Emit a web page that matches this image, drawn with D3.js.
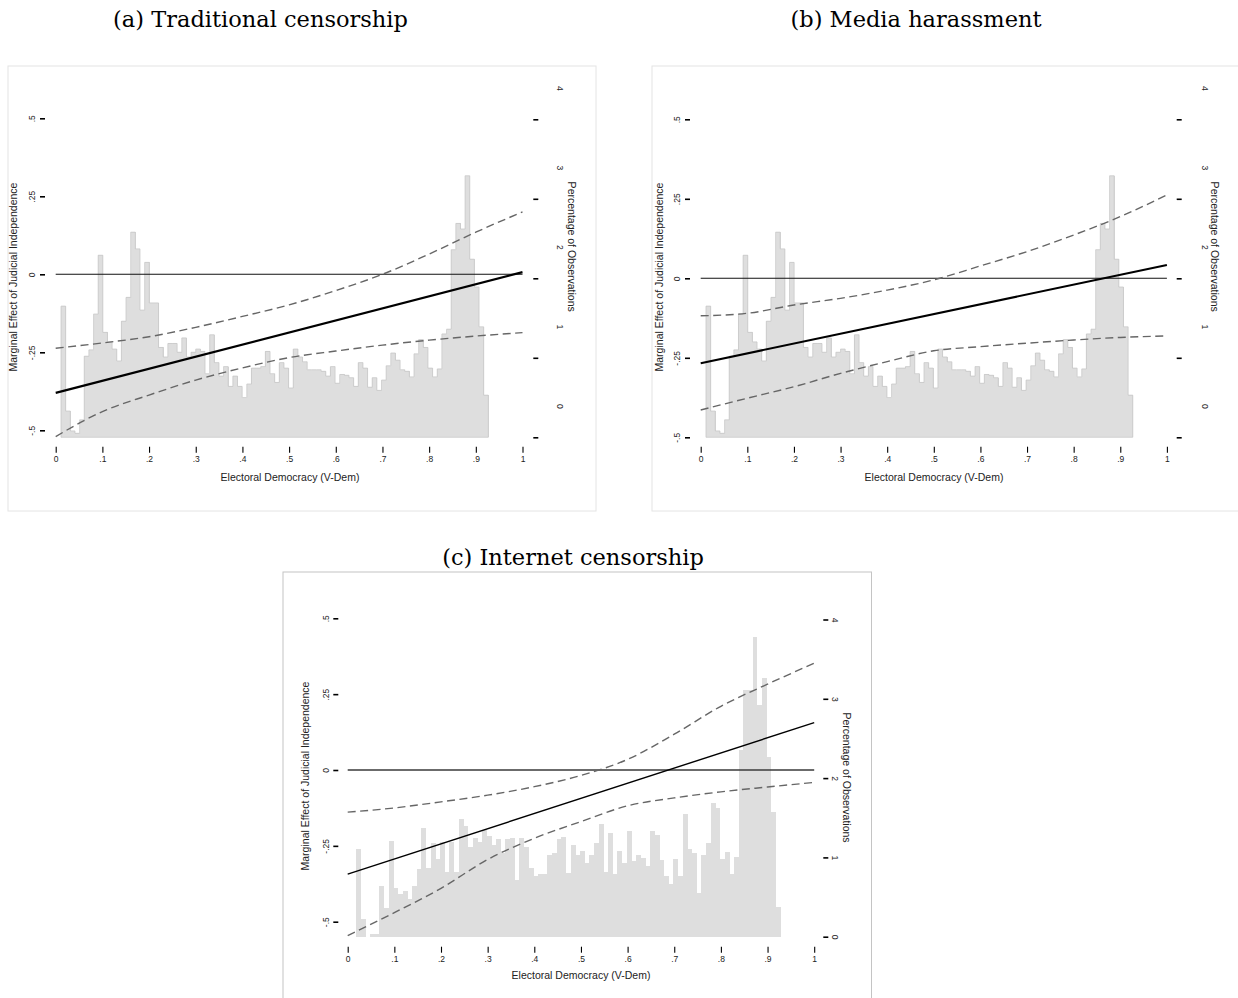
<!DOCTYPE html>
<html><head><meta charset="utf-8">
<script src="https://cdn.jsdelivr.net/npm/d3@7"></script>
<style>body{margin:0;background:#fff} svg{display:block}</style>
</head><body>
<svg id="c" width="1238" height="998"></svg>
<script>
// ---------------- DATA ----------------
const panelTitles = ["(a) Traditional censorship", "(b) Media harassment", "(c) Internet censorship"];
const xTitle = "Electoral Democracy (V-Dem)";
const yLeftTitle = "Marginal Effect of Judicial Independence";
const yRightTitle = "Percentage of Observations";

const xTicks = [0, .1, .2, .3, .4, .5, .6, .7, .8, .9, 1];
const xTickLabels = ["0", ".1", ".2", ".3", ".4", ".5", ".6", ".7", ".8", ".9", "1"];
const yTicks = [-.5, -.25, 0, .25, .5];
const yTickLabels = ["-.5", "-.25", "0", ".25", ".5"];
const pctTicks = [0, 1, 2, 3, 4];
const pctTickLabels = ["0", "1", "2", "3", "4"];

// evaluation points of the confidence bands
const ciX = [0, .1, .2, .3, .4, .5, .6, .7, .8, .9, 1];
const effectX = [0, 1];

// (a) Traditional censorship
const effectA = [-0.380, 0.007];
const upperA = [-0.237, -0.220, -0.200, -0.170, -0.135, -0.098, -0.052, 0.000, 0.065, 0.135, 0.200];
const lowerA = [-0.520, -0.440, -0.387, -0.339, -0.300, -0.267, -0.246, -0.227, -0.211, -0.198, -0.187];

// (b) Media harassment
const effectB = [-0.267, 0.042];
const upperB = [-0.118, -0.110, -0.084, -0.063, -0.037, -0.005, 0.039, 0.084, 0.136, 0.194, 0.262];
const lowerB = [-0.414, -0.377, -0.341, -0.299, -0.262, -0.228, -0.215, -0.204, -0.194, -0.186, -0.181];

// (c) Internet censorship
const effectC = [-0.343, 0.156];
const upperC = [-0.139, -0.125, -0.105, -0.083, -0.055, -0.018, 0.035, 0.118, 0.210, 0.283, 0.352];
const lowerC = [-0.546, -0.470, -0.390, -0.295, -0.225, -0.170, -0.118, -0.092, -0.072, -0.056, -0.041];

// histogram of electoral democracy, % of observations (panels a and b share the sample)
const histBinStartAB = 0.0114, histBinWidthAB = 0.00995;
const histAB = [1.65, 0.33, 0.08, 0.05, 0.22, 1.02, 1.10, 1.55, 2.29, 1.32,
                1.20, 1.11, 0.96, 1.46, 1.76, 2.58, 2.37, 1.60, 2.20, 1.69,
                1.69, 1.13, 1.01, 1.18, 1.18, 1.07, 1.25, 1.01, 1.07, 1.11,
                1.08, 0.80, 1.29, 0.94, 0.77, 0.89, 0.64, 0.77, 0.64, 0.50,
                0.67, 0.87, 0.87, 0.89, 1.08, 0.80, 0.69, 0.94, 0.87, 0.62,
                1.11, 1.01, 0.95, 0.85, 0.85, 0.85, 0.83, 0.77, 0.89, 0.68,
                0.79, 0.78, 0.75, 0.64, 0.94, 0.87, 0.63, 0.75, 0.59, 0.72,
                0.90, 1.06, 0.97, 0.85, 0.83, 0.76, 1.05, 1.23, 1.13, 0.87,
                0.76, 0.86, 1.30, 1.36, 2.36, 2.69, 2.62, 3.29, 2.24, 1.89,
                1.39, 0.53];
const histBinStartC = 0.0178, histBinWidthC = 0.0100;
const histC = [1.10, 0.22, 0.00, 0.04, 0.04, 0.64, 0.36, 1.21, 0.61, 0.54,
               0.58, 0.48, 0.64, 0.85, 1.37, 0.87, 1.18, 0.98, 1.20, 0.82,
               1.20, 0.82, 1.49, 1.39, 1.13, 1.24, 1.20, 1.35, 1.27, 1.16,
               1.23, 1.05, 1.23, 1.24, 0.72, 1.24, 1.13, 0.87, 0.77, 0.79,
               0.79, 1.03, 1.06, 1.23, 1.26, 0.80, 1.16, 1.03, 1.08, 0.93,
               1.03, 1.18, 1.42, 0.82, 1.31, 0.79, 1.08, 0.93, 1.33, 0.95,
               1.03, 0.99, 0.89, 1.33, 1.28, 0.97, 0.76, 0.66, 0.98, 0.77,
               1.55, 1.11, 1.05, 0.55, 1.03, 1.18, 1.69, 1.62, 0.98, 1.07,
               0.79, 1.00, 2.35, 3.11, 3.11, 3.78, 2.92, 3.26, 2.27, 1.57,
               0.37];

// ---------------- LAYOUT ----------------
const panels = [
  { title: panelTitles[0], titleX: 260.5, titleY: 27,
    frame: [8, 66, 588, 445], frameStroke: "#e4e4e4",
    xRange: [55.7, 522.5], xAxisY: 446.7, xTitleX: 290, xTitleY: 480.5,
    yLRange: [430.3, 118.3], yLAxisX: 45, yLLabelX: 32.3, yLTitleX: 13.5, yLTitleY: 277,
    yRRange: [437.3, 119.3], yRAxisX: 533.3, yRLabelX: 560, yRLabelDy: -31.5, yRTitleX: 571.5, yRTitleY: 246.7,
    hist: histAB, binStart: histBinStartAB, binWidth: histBinWidthAB, outline: true,
    effect: effectA, upper: upperA, lower: lowerA, effW: 2.1, zeroW: 1.1, zeroC: "#111" },
  { title: panelTitles[1], titleX: 916, titleY: 27,
    frame: [652, 66, 600, 445], frameStroke: "#e4e4e4",
    xRange: [700.7, 1166.9], xAxisY: 446.7, xTitleX: 934, xTitleY: 480.5,
    yLRange: [437.3, 119.3], yLAxisX: 690, yLLabelX: 677.3, yLTitleX: 659, yLTitleY: 277,
    yRRange: [437.3, 119.3], yRAxisX: 1176.7, yRLabelX: 1205, yRLabelDy: -31.5, yRTitleX: 1215, yRTitleY: 246.7,
    hist: histAB, binStart: histBinStartAB, binWidth: histBinWidthAB, outline: true,
    effect: effectB, upper: upperB, lower: lowerB, effW: 2.1, zeroW: 1.1, zeroC: "#111" },
  { title: panelTitles[2], titleX: 573, titleY: 565,
    frame: [283, 572, 588.5, 440], frameStroke: "#c4c4c4",
    xRange: [347.7, 814.2], xAxisY: 946.7, xTitleX: 581, xTitleY: 979,
    yLRange: [921.7, 618.3], yLAxisX: 338.3, yLLabelX: 326.5, yLTitleX: 305, yLTitleY: 776,
    yRRange: [936.7, 619.5], yRAxisX: 823.3, yRLabelX: 834.5, yRLabelDy: 0, yRTitleX: 846.7, yRTitleY: 777.5,
    hist: histC, binStart: histBinStartC, binWidth: histBinWidthC, outline: false,
    effect: effectC, upper: upperC, lower: lowerC, effW: 1.4, zeroW: 1.5, zeroC: "#3a3a3a" }
];

const svg = d3.select("#c");
svg.append("rect").attr("width", 1238).attr("height", 998).attr("fill", "#fff");
const sans = "'Liberation Sans', Arial, Helvetica, sans-serif";

function drawPanel(p) {
  const g = svg.append("g");
  g.append("rect").attr("x", p.frame[0]).attr("y", p.frame[1])
    .attr("width", p.frame[2]).attr("height", p.frame[3])
    .attr("fill", "none").attr("stroke", p.frameStroke).attr("stroke-width", 1);

  g.append("text").attr("x", p.titleX).attr("y", p.titleY)
    .attr("text-anchor", "middle").attr("font-family", "'DejaVu Serif', serif")
    .attr("font-size", 22.5).attr("fill", "#000").text(p.title);

  const x = d3.scaleLinear().domain([0, 1]).range(p.xRange);
  const yL = d3.scaleLinear().domain([-.5, .5]).range(p.yLRange);
  const yR = d3.scaleLinear().domain([0, 4]).range(p.yRRange);

  // histogram
  const bx = i => x(p.binStart + i * p.binWidth);
  g.append("g").attr("shape-rendering", "crispEdges").selectAll("rect").data(p.hist).join("rect")
    .attr("x", (d, i) => bx(i))
    .attr("width", (d, i) => bx(i + 1) - bx(i) + 0.3)
    .attr("y", d => yR(d))
    .attr("height", d => yR(0) - yR(d))
    .attr("fill", "#dedede");
  if (p.outline) {
    let dpath = `M${bx(0)},${yR(0)}`;
    p.hist.forEach((h, i) => { dpath += `L${bx(i)},${yR(h)}L${bx(i + 1)},${yR(h)}`; });
    dpath += `L${bx(p.hist.length)},${yR(0)}Z`;
    g.append("path").attr("d", dpath).attr("fill", "none")
      .attr("stroke", "#c8c8c8").attr("stroke-width", 0.8);
  }

  // zero reference line
  g.append("line").attr("x1", x(0)).attr("x2", x(1)).attr("y1", yL(0)).attr("y2", yL(0))
    .attr("stroke", p.zeroC).attr("stroke-width", p.zeroW);

  // confidence bands
  const band = d3.line().x(d => x(d[0])).y(d => yL(d[1])).curve(d3.curveMonotoneX);
  [p.upper, p.lower].forEach(arr => {
    g.append("path").attr("d", band(ciX.map((v, i) => [v, arr[i]])))
      .attr("fill", "none").attr("stroke", "#666").attr("stroke-width", 1.4)
      .attr("stroke-dasharray", "8,4.5");
  });
  // marginal effect
  g.append("path").attr("d", d3.line().x(d => x(d[0])).y(d => yL(d[1]))(effectX.map((v, i) => [v, p.effect[i]])))
    .attr("fill", "none").attr("stroke", "#000").attr("stroke-width", p.effW);

  // x axis
  const xa = g.append("g").attr("transform", `translate(0,${p.xAxisY})`)
    .call(d3.axisBottom(x).tickValues(xTicks).tickFormat((d, i) => xTickLabels[i]).tickSize(6).tickPadding(3));
  xa.select(".domain").remove();
  xa.selectAll("line").attr("stroke", "#000").attr("stroke-width", 1.1);
  xa.selectAll("text").attr("font-family", sans).attr("font-size", 8.5).attr("fill", "#222");
  g.append("text").attr("x", p.xTitleX).attr("y", p.xTitleY).attr("text-anchor", "middle")
    .attr("font-family", sans).attr("font-size", 10.5).attr("fill", "#222").text(xTitle);

  // left axis
  const la = g.append("g").attr("transform", `translate(${p.yLAxisX},0)`)
    .call(d3.axisLeft(yL).tickValues(yTicks).tickFormat((d, i) => yTickLabels[i]).tickSize(5));
  la.select(".domain").remove();
  la.selectAll("line").attr("stroke", "#000").attr("stroke-width", 1.6);
  la.selectAll("text").attr("x", 0).attr("y", 0).attr("dy", "0.35em")
    .attr("text-anchor", "middle")
    .attr("transform", `translate(${p.yLLabelX - p.yLAxisX},0) rotate(-90)`)
    .attr("font-family", sans).attr("font-size", 8.5).attr("fill", "#222");
  g.append("text").attr("transform", `translate(${p.yLTitleX},${p.yLTitleY}) rotate(-90)`)
    .attr("dy", "0.35em").attr("text-anchor", "middle")
    .attr("font-family", sans).attr("font-size", 10.5).attr("fill", "#222").text(yLeftTitle);

  // right axis
  const ra = g.append("g").attr("transform", `translate(${p.yRAxisX},0)`)
    .call(d3.axisRight(yR).tickValues(pctTicks).tickFormat((d, i) => pctTickLabels[i]).tickSize(5));
  ra.select(".domain").remove();
  ra.selectAll("line").attr("stroke", "#000").attr("stroke-width", 1.6);
  ra.selectAll("text").attr("x", 0).attr("y", 0).attr("dy", "0.35em")
    .attr("text-anchor", "middle")
    .attr("transform", `translate(${p.yRLabelX - p.yRAxisX},${p.yRLabelDy}) rotate(90)`)
    .attr("font-family", sans).attr("font-size", 8.5).attr("fill", "#222");
  g.append("text").attr("transform", `translate(${p.yRTitleX},${p.yRTitleY}) rotate(90)`)
    .attr("dy", "0.35em").attr("text-anchor", "middle")
    .attr("font-family", sans).attr("font-size", 10.5).attr("fill", "#222").text(yRightTitle);
}
panels.forEach(drawPanel);
</script>
</body></html>
